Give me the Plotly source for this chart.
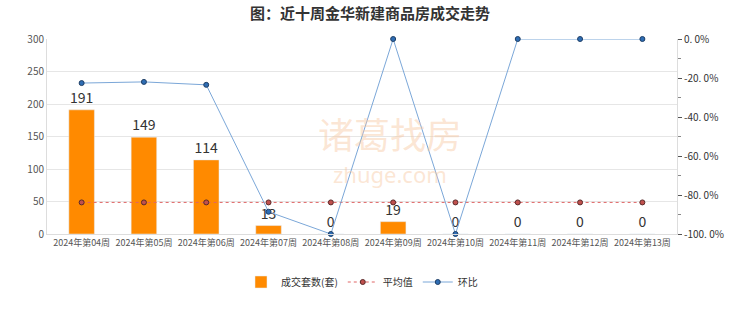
import plotly.graph_objects as go

weeks = ["2024年第04周", "2024年第05周", "2024年第06周", "2024年第07周", "2024年第08周",
         "2024年第09周", "2024年第10周", "2024年第11周", "2024年第12周", "2024年第13周"]
deals = [191, 149, 114, 13, 0, 19, 0, 0, 0, 0]
ring = [-0.226, -0.220, -0.235, -0.886, -1.0, 0.0, -1.0, 0.0, 0.0, 0.0]
avg_val = sum(deals) / len(deals)
avg = [avg_val] * len(deals)

left_ticks = [0, 50, 100, 150, 200, 250, 300]
right_ticks = [0, -0.2, -0.4, -0.6, -0.8, -1.0]
right_text = ["0. 0%", "-20. 0%", "-40. 0%", "-60. 0%", "-80. 0%", "-100. 0%"]

fig = go.Figure()
fig.add_trace(go.Bar(x=weeks, y=deals, name="成交套数(套)", marker_color="#FF8A00",
                     width=0.41, text=[str(v) for v in deals], textposition="outside",
                     textfont=dict(size=14, color="#333333"), cliponaxis=False))
fig.add_trace(go.Scatter(x=weeks, y=avg, name="平均值", mode="lines+markers",
                         line=dict(color="#E06666", width=1, dash="dot"),
                         marker=dict(size=5, color="#C0504D", line=dict(color="#5a2a2a", width=1))))
fig.add_trace(go.Scatter(x=weeks, y=ring, name="环比", mode="lines+markers", yaxis="y2",
                         line=dict(color="#7BA7D8", width=1),
                         marker=dict(size=5, color="#2E6DB4", line=dict(color="#1f3f66", width=1)),
                         cliponaxis=False))

fig.add_annotation(text="诸葛找房", x=0.545, y=0.52, xref="paper", yref="paper", showarrow=False,
                   font=dict(size=36, color="rgba(248,200,160,0.45)", family="Noto Sans CJK SC"))
fig.add_annotation(text="zhuge.com", x=0.545, y=0.22, xref="paper", yref="paper", showarrow=False,
                   font=dict(size=22, color="rgba(248,200,160,0.45)", family="Noto Sans"))

fig.update_layout(
    width=740, height=312,
    margin=dict(l=47, r=63, t=39, b=78),
    paper_bgcolor="white", plot_bgcolor="white",
    title=dict(text="<b>图：近十周金华新建商品房成交走势</b>", x=0.5, xanchor="center",
               y=1 - 14 / 312, yanchor="middle", yref="container",
               font=dict(size=15, color="#333333", family="Noto Sans CJK SC")),
    font=dict(family="Noto Sans CJK SC", color="#555555"),
    xaxis=dict(tickfont=dict(size=9, color="#555555"), showline=True, linecolor="#dddddd",
               ticks="", showgrid=False),
    yaxis=dict(range=[0, 300], tickvals=left_ticks, tickfont=dict(size=10, color="#555555"),
               gridcolor="#e6e6e6", showline=True, linecolor="#dddddd", zeroline=False),
    yaxis2=dict(range=[-1.0, 0.0], overlaying="y", side="right", tickvals=right_ticks,
                ticktext=right_text, tickfont=dict(size=10, color="#333333"),
                showgrid=False, showline=True, linecolor="#dddddd", ticks="outside",
                ticklen=4, tickcolor="#555555",
                minor=dict(tickvals=[-0.1, -0.3, -0.5, -0.7, -0.9], ticks="outside", ticklen=3,
                           tickcolor="#888888"),
                zeroline=False),
    legend=dict(orientation="h", x=0.5, xanchor="center", y=1 - 282 / 312, yanchor="middle",
                yref="container", font=dict(size=10, color="#333333")),
)

fig.write_html("out.html")
